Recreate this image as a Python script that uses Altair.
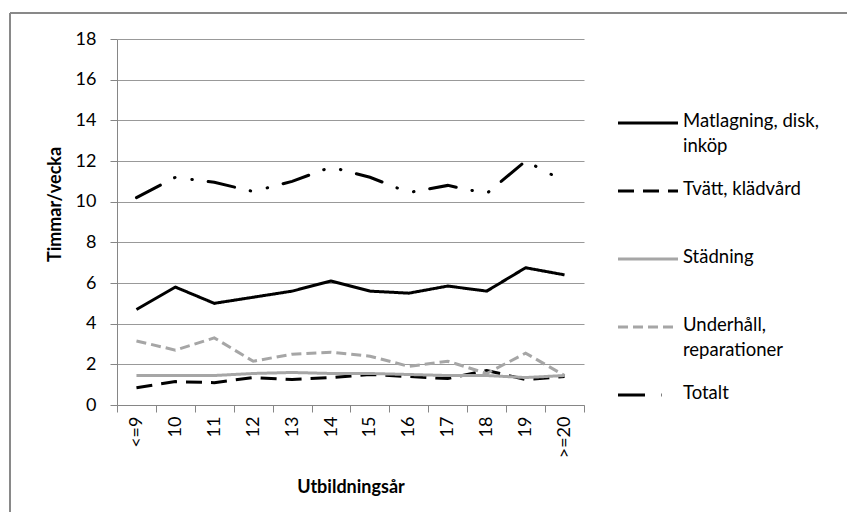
import altair as alt
import pandas as pd

categories = ["<=9", "10", "11", "12", "13", "14", "15", "16", "17", "18", "19", ">=20"]
series_names = ["Matlagning, disk, inköp", "Tvätt, klädvård", "Städning",
                "Underhåll, reparationer", "Totalt"]
legend_labels = ["Matlagning, disk,\ninköp", "Tvätt, klädvård", "Städning",
                 "Underhåll,\nreparationer", "Totalt"]

matlagning = [4.7, 5.8, 5.0, 5.3, 5.6, 6.1, 5.6, 5.5, 5.85, 5.6, 6.75, 6.4]
tvatt = [0.85, 1.15, 1.1, 1.35, 1.25, 1.35, 1.5, 1.4, 1.3, 1.7, 1.25, 1.4]
stadning = [1.45, 1.45, 1.45, 1.55, 1.6, 1.55, 1.55, 1.5, 1.45, 1.45, 1.35, 1.45]
underhall = [3.15, 2.7, 3.3, 2.15, 2.5, 2.6, 2.4, 1.9, 2.15, 1.55, 2.55, 1.45]
totalt = [10.2, 11.2, 10.95, 10.5, 11.0, 11.7, 11.2, 10.45, 10.8, 10.4, 12.0, 11.0]

values = [matlagning, tvatt, stadning, underhall, totalt]
colors = ["#000000", "#000000", "#A6A6A6", "#A6A6A6", "#000000"]
dashes = [[1, 0], [16, 9], [1, 0], [10, 5], [27, 16, 0.5, 17, 0.5, 16]]

rows = []
for name, vals in zip(series_names, values):
    for c, v in zip(categories, vals):
        rows.append({"cat": c, "value": v, "series": name})
df = pd.DataFrame(rows)
legend_df = pd.DataFrame({"series": series_names, "label": legend_labels})

FONT = "Lato"
W, H = 467, 366

color_enc = alt.Color("series:N", scale=alt.Scale(domain=series_names, range=colors), legend=None)
dash_enc = alt.StrokeDash("series:N", scale=alt.Scale(domain=series_names, range=dashes), legend=None)

x_enc = alt.X("cat:N", sort=categories,
              scale=alt.Scale(type="band", paddingInner=0, paddingOuter=0),
              axis=alt.Axis(title="Utbildningsår", labelAngle=270, tickBand="extent",
                            grid=False, tickSize=7, labelPadding=4,
                            domainColor="#868686", tickColor="#868686",
                            labelFont=FONT, labelFontSize=18, labelColor="#000000",
                            titleFont=FONT, titleFontSize=18, titleFontWeight="bold",
                            titleColor="#000000", titleY=82, titleBaseline="middle"))
y_enc = alt.Y("value:Q", scale=alt.Scale(domain=[0, 18], nice=False),
              axis=alt.Axis(title="Timmar/vecka", values=list(range(0, 19, 2)),
                            grid=True, gridColor="#999999", tickSize=7, labelPadding=14,
                            domainColor="#868686", tickColor="#868686",
                            labelFont=FONT, labelFontSize=18, labelColor="#000000",
                            titleFont=FONT, titleFontSize=18, titleFontWeight="bold",
                            titleColor="#000000", titleX=-62, titleY=165,
                            titleBaseline="middle", titleAlign="center", titleAngle=270))

line_layers = []
for name in series_names:
    line_layers.append(
        alt.Chart(df).transform_filter(alt.datum.series == name)
        .mark_line(strokeWidth=3, strokeCap="round" if name == "Totalt" else "butt")
        .encode(x=x_enc, y=y_enc, color=color_enc, strokeDash=dash_enc)
    )
lines = alt.layer(*line_layers)

leg_y = alt.Y("series:N", sort=series_names,
              scale=alt.Scale(type="point", range=[84, 356], padding=0), axis=None)

legend_lines = alt.Chart(legend_df).mark_rule(strokeWidth=3).encode(
    x=alt.value(501), x2=alt.value(561), y=leg_y, color=color_enc, strokeDash=dash_enc)
legend_text = alt.Chart(legend_df).mark_text(
    align="left", baseline="top", dy=-11, lineBreak="\n", lineHeight=25,
    font=FONT, fontSize=18.5, color="#000000").encode(
    x=alt.value(566), y=leg_y, text="label:N")
legend = alt.layer(legend_lines, legend_text)

one = alt.Data(values=[{"k": 1}])
border_top = alt.Chart(one).mark_rule(color="#898989", strokeWidth=2).encode(
    x=alt.value(-107), x2=alt.value(730), y=alt.value(-26))
border_left = alt.Chart(one).mark_rule(color="#898989", strokeWidth=2).encode(
    x=alt.value(-107), y=alt.value(-26), y2=alt.value(473))

chart = alt.layer(lines, legend, border_top, border_left).resolve_scale(
    y="independent"
).properties(
    width=W, height=H, padding={"left": 1, "top": 4, "right": 0, "bottom": 0}
).configure_view(stroke=None)

chart.save("out.html", embed_options={"renderer": "svg", "actions": False})
